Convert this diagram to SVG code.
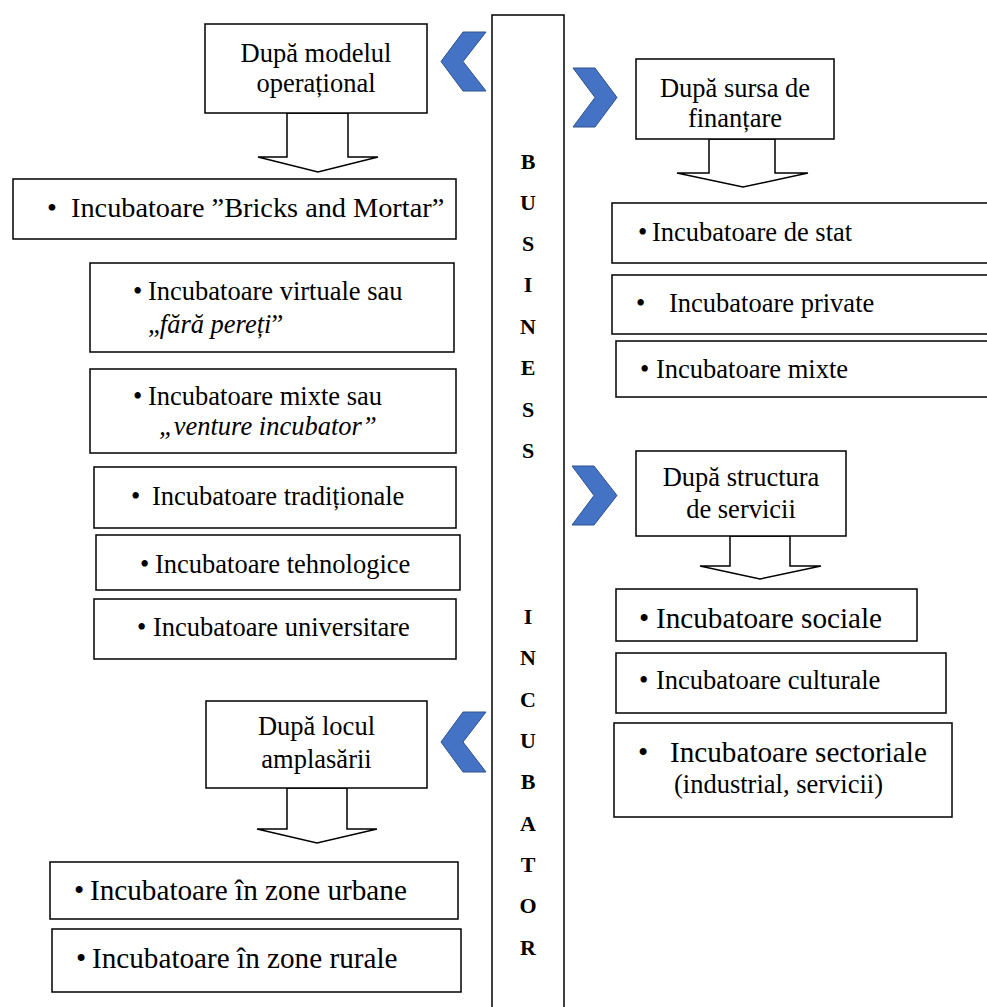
<svg xmlns="http://www.w3.org/2000/svg" width="987" height="1007" viewBox="0 0 987 1007">
<defs>
<style>
.bx{fill:#fff;stroke:#000;stroke-width:1.5}
.ar{fill:#fff;stroke:#000;stroke-width:1.5;stroke-linejoin:miter}
.cv{fill:#4472C4;stroke:#2F528F;stroke-width:1}
text{font-family:"Liberation Serif","Times New Roman",serif;fill:#000}
.t{font-size:26.5px}
.tl{font-size:29.2px}
.c{text-anchor:middle}
.v{font-size:22px;font-weight:bold;text-anchor:middle}
.i{font-style:italic}
</style>
</defs>
<rect width="987" height="1007" fill="#fff"/>

<g id="center-column">
<path d="M492,1008 V15 H564 V1008" fill="#fff" stroke="#000" stroke-width="1.5"/>
<text class="v"><tspan x="528" y="169">B</tspan><tspan x="528" y="210">U</tspan><tspan x="528" y="251">S</tspan><tspan x="528" y="292">I</tspan><tspan x="528" y="334">N</tspan><tspan x="528" y="375">E</tspan><tspan x="528" y="417">S</tspan><tspan x="528" y="458">S</tspan></text>
<text class="v"><tspan x="528" y="624">I</tspan><tspan x="528" y="665">N</tspan><tspan x="528" y="707">C</tspan><tspan x="528" y="748">U</tspan><tspan x="528" y="789">B</tspan><tspan x="528" y="831">A</tspan><tspan x="528" y="872">T</tspan><tspan x="528" y="913">O</tspan><tspan x="528" y="955">R</tspan></text>
</g>

<g id="connectors">
<polygon class="cv" points="463,32 486,32 463,61.5 486,91 463,91 441,61.5"/>
<polygon class="cv" points="573,68 595,68 617,97.5 595,127 573,127 595,97.5"/>
<polygon class="cv" points="572,466 594,466 617,495.5 594,525 572,525 594,495.5"/>
<polygon class="cv" points="463,712 486,712 463,742 486,772 463,772 441,742"/>
<polygon class="ar" points="287,113 348,113 348,157 378,157 318,172 258,157 287,157"/>
<polygon class="ar" points="709,139 775,139 775,173 808,173 743,187 677,173 709,173"/>
<polygon class="ar" points="730,536 790,536 790,566 821,566 760,579 700,566 730,566"/>
<polygon class="ar" points="287,788 347,788 347,829 377,829 317,843 257,829 287,829"/>
</g>

<g id="h-operational">
<rect class="bx" x="205" y="24" width="222" height="89"/>
<text class="t c" x="316" y="62">După modelul</text>
<text class="t c" x="316" y="92">operațional</text>
</g>
<g id="n-bricks">
<rect class="bx" x="13" y="179" width="443" height="60"/>
<text style="font-size:28.3px"><tspan x="47" y="217">•</tspan><tspan x="71" y="217">Incubatoare ”Bricks and Mortar”</tspan></text>
</g>
<g id="n-virtuale">
<rect class="bx" x="90" y="263" width="364" height="89"/>
<text class="t"><tspan x="133" y="300">•</tspan><tspan x="148" y="300">Incubatoare virtuale sau</tspan></text>
<text class="t" x="148" y="333">„<tspan class="i">fără pereți</tspan>”</text>
</g>
<g id="n-mixte-left">
<rect class="bx" x="90" y="369" width="366" height="84"/>
<text class="t"><tspan x="133" y="405">•</tspan><tspan x="148" y="405">Incubatoare mixte sau</tspan></text>
<text class="t i" x="159" y="435">„venture incubator”</text>
</g>
<g id="n-traditionale">
<rect class="bx" x="94" y="467" width="362" height="61"/>
<text class="t"><tspan x="131" y="505">•</tspan><tspan x="152" y="505">Incubatoare tradiționale</tspan></text>
</g>
<g id="n-tehnologice">
<rect class="bx" x="96" y="535" width="364" height="55"/>
<text class="t"><tspan x="140" y="573">•</tspan><tspan x="155" y="573">Incubatoare tehnologice</tspan></text>
</g>
<g id="n-universitare">
<rect class="bx" x="94" y="599" width="362" height="60"/>
<text class="t"><tspan x="137" y="636">•</tspan><tspan x="153" y="636">Incubatoare universitare</tspan></text>
</g>

<g id="h-finantare">
<rect class="bx" x="636" y="59" width="198" height="80"/>
<text class="t c" x="735" y="97">După sursa de</text>
<text class="t c" x="735" y="127">finanțare</text>
</g>
<g id="n-stat">
<rect class="bx" x="612" y="203" width="380" height="60"/>
<text class="t"><tspan x="638" y="241">•</tspan><tspan x="652" y="241">Incubatoare de stat</tspan></text>
</g>
<g id="n-private">
<rect class="bx" x="612" y="275" width="380" height="59"/>
<text class="t"><tspan x="636" y="312">•</tspan><tspan x="669" y="312">Incubatoare private</tspan></text>
</g>
<g id="n-mixte-right">
<rect class="bx" x="616" y="341" width="376" height="56"/>
<text class="t"><tspan x="640" y="378">•</tspan><tspan x="656" y="378">Incubatoare mixte</tspan></text>
</g>

<g id="h-servicii">
<rect class="bx" x="636" y="451" width="210" height="85"/>
<text class="t c" x="741" y="486">După structura</text>
<text class="t c" x="741" y="518">de servicii</text>
</g>
<g id="n-sociale">
<rect class="bx" x="616" y="589" width="301" height="52"/>
<text class="tl"><tspan x="639" y="628">•</tspan><tspan x="656" y="628">Incubatoare sociale</tspan></text>
</g>
<g id="n-culturale">
<rect class="bx" x="616" y="653" width="330" height="60"/>
<text class="t"><tspan x="639" y="689">•</tspan><tspan x="656" y="689">Incubatoare culturale</tspan></text>
</g>
<g id="n-sectoriale">
<rect class="bx" x="614" y="723" width="338" height="94"/>
<text class="tl"><tspan x="638" y="762">•</tspan><tspan x="670" y="762">Incubatoare sectoriale</tspan></text>
<text class="t" x="674" y="793">(industrial, servicii)</text>
</g>

<g id="h-amplasare">
<rect class="bx" x="206" y="701" width="221" height="87"/>
<text class="t c" x="316.5" y="735">După locul</text>
<text class="t c" x="316.5" y="768">amplasării</text>
</g>
<g id="n-urbane">
<rect class="bx" x="50" y="862" width="408" height="57"/>
<text class="tl"><tspan x="74" y="900">•</tspan><tspan x="90" y="900">Incubatoare în zone urbane</tspan></text>
</g>
<g id="n-rurale">
<rect class="bx" x="52" y="929" width="409" height="63"/>
<text class="tl"><tspan x="76" y="968">•</tspan><tspan x="92" y="968">Incubatoare în zone rurale</tspan></text>
</g>
</svg>
